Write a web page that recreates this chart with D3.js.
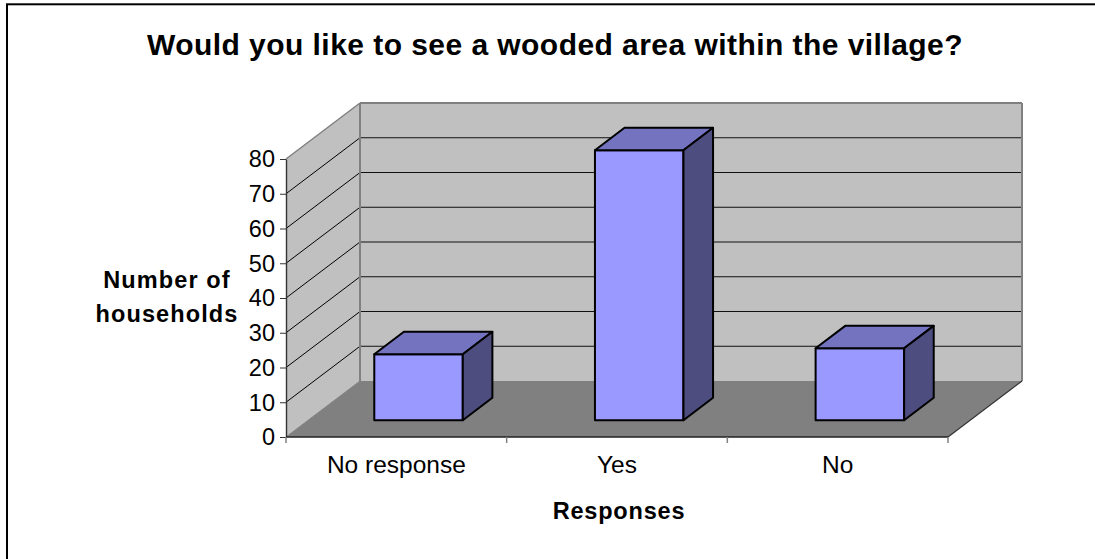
<!DOCTYPE html>
<html><head><meta charset="utf-8">
<script src="https://cdn.jsdelivr.net/npm/d3@7"></script>
<style>html,body{margin:0;padding:0;background:#fff}svg{display:block}text{font-family:"Liberation Sans",Arial,sans-serif;fill:#000}</style>
</head><body><div id="c"></div>
<script>
const categories = ["No response","Yes","No"];
const values = [19,77.7,20.7];
const yTicks = [0,10,20,30,40,50,60,70,80];
const titleText = "Would you like to see a wooded area within the village?";
const yTitle = ["Number of","households"];
const xTitle = "Responses";

const W=1095,H=559;
const svg=d3.select("#c").append("svg").attr("width",W).attr("height",H);
const x0=286,x1=948,y0=437,y1=159,dx=74,dy=-56;
const x=d3.scaleBand().domain(categories).range([x0,x1]);
const y=d3.scaleLinear().domain([0,80]).range([y0,y1]);
const P=(px,py,d=0)=>[px+dx*d,py+dy*d];
const poly=(pts,fill)=>svg.append("polygon").attr("points",pts.map(p=>p.join(",")).join(" ")).attr("fill",fill);
const line=(a,b,c,w)=>svg.append("line").attr("x1",a[0]).attr("y1",a[1]).attr("x2",b[0]).attr("y2",b[1]).attr("stroke",c).attr("stroke-width",w);

// outer frame (left and top only visible)
svg.append("rect").attr("x",7).attr("y",4.3).attr("width",W+20).attr("height",H+20).attr("fill","#fff").attr("stroke","#000").attr("stroke-width",2);

// walls
poly([P(x0,y0),P(x0,y1),P(x0,y1,1),P(x0,y0,1)],"#c0c0c0");
poly([P(x0,y0,1),P(x0,y1,1),P(x1,y1,1),P(x1,y0,1)],"#c0c0c0");
poly([P(x0,y0),P(x1,y0),P(x1,y0,1),P(x0,y0,1)],"#808080");

// gridlines
yTicks.slice(1,-1).forEach(t=>{
  line(P(x0,y(t)),P(x0,y(t),1),"#000",1);
  line(P(x0,y(t),1),P(x1,y(t),1),"#111",1.2);
});
// wall borders
line(P(x0,y1),P(x0,y1,1),"#808080",1.5);
line(P(x0,y1,1),P(x1,y1,1),"#808080",2);
line(P(x1,y1,1),P(x1,y0,1),"#808080",2);
line(P(x0,y1,1),P(x0,y0,1),"#808080",2);
line(P(x0,y0),P(x0,y0,1),"#808080",1);
line(P(x1,y0),P(x1,y0,1),"#333",1.2);

// axes
const gy=svg.append("g").attr("transform",`translate(${x0},0)`).call(d3.axisLeft(y).tickValues(yTicks).tickSize(6).tickPadding(5).tickSizeOuter(0));
gy.selectAll("text").style("font-size","23.5px").attr("dy","0.33em");
gy.selectAll("line").attr("stroke","#333");
gy.select(".domain").attr("stroke","#333").attr("stroke-width",1.4);
const gx=svg.append("g").attr("transform",`translate(0,${y0})`).call(d3.axisBottom(x).tickSize(0).tickPadding(18.6));
gx.selectAll("text").style("font-size","24.5px");
gx.select(".domain").remove();
svg.append("line").attr("x1",x0).attr("x2",x1).attr("y1",y0).attr("y2",y0).attr("stroke","#222").attr("stroke-width",1.6);
[x0,...categories.map(c=>x(c)+x.bandwidth())].forEach(t=>line([t,y0],[t,y0+6],"#808080",1.5));

// bars
const d0=0.3,d1=0.7;
const barW=88.5;
categories.forEach((c,i)=>{
  const cx=x(c)+x.bandwidth()/2, l=cx-barW/2, r=cx+barW/2, t=y(values[i]);
  const g=[
    [[P(l,y0,d0),P(r,y0,d0),P(r,t,d0),P(l,t,d0)],"#9999ff"],
    [[P(l,t,d0),P(r,t,d0),P(r,t,d1),P(l,t,d1)],"#7373bf"],
    [[P(r,y0,d0),P(r,t,d0),P(r,t,d1),P(r,y0,d1)],"#4d4d80"]
  ];
  g.forEach(([pts,f])=>poly(pts,f).attr("stroke","#000").attr("stroke-width",2).attr("stroke-linejoin","round"));
});

// titles
svg.append("text").attr("x",555).attr("y",55).attr("text-anchor","middle").style("font-size","30px").style("letter-spacing","0.45px").style("font-weight","bold").text(titleText);
yTitle.forEach((s,i)=>svg.append("text").attr("x",167).attr("y",288+i*33.5).attr("text-anchor","middle").style("font-size","23.5px").style("letter-spacing","1.1px").style("font-weight","bold").text(s));
svg.append("text").attr("x",619).attr("y",519).attr("text-anchor","middle").style("font-size","23.5px").style("letter-spacing","0.8px").style("font-weight","bold").text(xTitle);
</script></body></html>
